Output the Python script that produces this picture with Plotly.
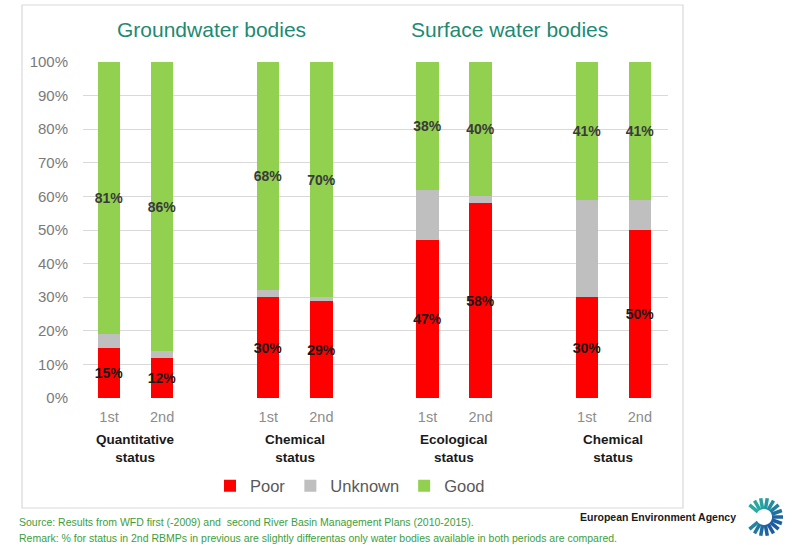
import math
import plotly.graph_objects as go

# ---- data ----
groups = ["Quantitative<br>status", "Chemical<br>status", "Ecological<br>status", "Chemical<br>status"]
periods = ["1st", "2nd"]
sections = ["Groundwater bodies", "Surface water bodies"]
poor = [15, 12, 30, 29, 47, 58, 30, 50]
unknown = [4, 2, 2, 1, 15, 2, 29, 9]
good = [81, 86, 68, 70, 38, 40, 41, 41]
series_names = ["Poor", "Unknown", "Good"]
series_colors = ["#FF0000", "#BFBFBF", "#92D050"]
source_lines = [
    "Source: Results from WFD first (-2009) and  second River Basin Management Plans (2010-2015).",
    "Remark: % for status in 2nd RBMPs in previous are slightly differentas only water bodies available in both periods are compared.",
]
agency = "European Environment Agency"

# ---- layout geometry (pixels) ----
W, H = 794, 545
L, R, T, B = 83, 126, 62, 147
PW, PH = W - L - R, H - T - B


def px(x):
    return (x - L) / PW


def py(y):
    return (H - B - y) / PH


# x positions: 2 bars per group, one empty slot between groups
xs = [g * 3 + p for g in range(len(groups)) for p in range(len(periods))]
xlabels = [periods[p] for g in range(len(groups)) for p in range(len(periods))]
FONT = "Liberation Sans, Arial, sans-serif"
NARROW = "Liberation Sans Narrow, Arial Narrow, sans-serif"

fig = go.Figure()
for name, vals, col in zip(series_names, [poor, unknown, good], series_colors):
    show_text = name != "Unknown"
    fig.add_trace(go.Bar(
        x=xs, y=vals, name=name, marker=dict(color=col, line=dict(width=0)),
        width=0.42,
        text=[f"<b>{v}%</b>" for v in vals] if show_text else None,
        textposition="inside" if show_text else "none",
        insidetextanchor="middle", textangle=0, constraintext="none",
        textfont=dict(family=FONT, size=14, color="#1a1a1a" if name == "Poor" else "#3a3a3a"),
        hoverinfo="skip",
    ))

annotations = []
# group labels
for g, lab in enumerate(groups):
    annotations.append(dict(
        x=g * 3 + 0.5, xref="x", y=py(449), yref="paper", text=f"<b>{lab}</b>",
        showarrow=False, xanchor="center", yanchor="middle",
        font=dict(family=FONT, size=13.5, color="#1a1a1a")))
# section titles
for s, (title, cx) in enumerate(zip(sections, [211, 509])):
    annotations.append(dict(
        x=px(cx), xref="paper", y=py(30), yref="paper", text=title, showarrow=False,
        xanchor="center", yanchor="middle",
        font=dict(family=FONT, size=21, color="#1E8A72")))
# footer
for i, line in enumerate(source_lines):
    annotations.append(dict(
        x=px(17), xref="paper", y=py(522 + 16 * i), yref="paper", text=line,
        showarrow=False, xanchor="left", yanchor="middle",
        font=dict(family=NARROW, size=10.5, color="#3C9E3C")))
annotations.append(dict(
    x=px(738), xref="paper", y=py(517), yref="paper", text=f"<b>{agency}</b>",
    showarrow=False, xanchor="right", yanchor="middle",
    font=dict(family=NARROW, size=10.5, color="#1a1a1a")))

shapes = [dict(type="rect", xref="paper", yref="paper",
               x0=px(22), x1=px(683), y0=py(508), y1=py(5),
               line=dict(color="#D9D9D9", width=1.2), layer="below")]

# EEA sunburst logo (decoration)
cx, cy = 764, 517
n_rays = 18
for k in range(n_rays):
    a = 2 * math.pi * k / n_rays
    if abs(math.cos(a) + 1) < 0.08:
        continue
    t = (math.sin(a) * -1 + math.cos(a)) / 2.8 + 0.5  # colour blend
    t = max(0, min(1, t))
    c1, c2 = (40, 170, 160), (30, 90, 160)
    col = "rgb({},{},{})".format(*[int(c1[j] + (c2[j] - c1[j]) * t) for j in range(3)])
    r0, r1 = 8, 19
    shapes.append(dict(type="line", xref="paper", yref="paper",
                       x0=px(cx + r0 * math.cos(a)), y0=py(cy - r0 * math.sin(a)),
                       x1=px(cx + r1 * math.cos(a)), y1=py(cy - r1 * math.sin(a)),
                       line=dict(color=col, width=3.5)))

fig.update_layout(
    width=W, height=H, margin=dict(l=L, r=R, t=T, b=B),
    paper_bgcolor="white", plot_bgcolor="white",
    barmode="stack", bargap=0,
    font=dict(family=FONT, color="#595959"),
    xaxis=dict(range=[-0.49, 10.53], tickvals=xs, ticktext=xlabels, showgrid=False,
               zeroline=False, showline=False, ticks="", ticklen=0,
               tickfont=dict(size=14.5, color="#8C8C8C"), ticklabelstandoff=8,
               fixedrange=True),
    yaxis=dict(range=[0, 100], dtick=10, ticksuffix="%", showgrid=True,
               gridcolor="#D9D9D9", gridwidth=1, zeroline=False, showline=False,
               tickfont=dict(size=15, color="#7A7A7A"), ticks="", ticklabelstandoff=14),
    legend=dict(orientation="h", x=px(350), xanchor="center", y=py(486), yanchor="middle",
                font=dict(size=16.5, color="#595959"), itemwidth=30, traceorder="normal",
                bgcolor="rgba(0,0,0,0)"),
    annotations=annotations, shapes=shapes,
    showlegend=True,
)
fig.write_html("out.html", config={"displayModeBar": False},
               post_script="document.body.style.margin='0px';")
